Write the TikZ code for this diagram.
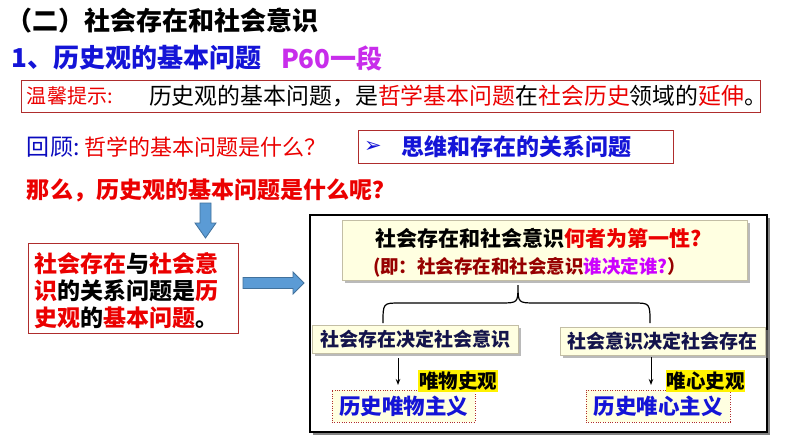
\documentclass[tikz,border=0pt]{standalone}
\usepackage{fontspec}
\newfontfamily\cjk{Noto Sans CJK SC}
\newfontfamily\dejavu{DejaVu Sans}
\usetikzlibrary{shadows,arrows.meta}
\definecolor{myred}{RGB}{235,0,0}
\definecolor{tblue}{RGB}{20,20,215}
\definecolor{pmag}{RGB}{200,45,235}
\definecolor{hblue}{RGB}{10,10,190}
\definecolor{boxred}{RGB}{175,45,45}
\definecolor{cream}{RGB}{255,255,225}
\definecolor{navy}{RGB}{20,20,75}
\definecolor{dred}{RGB}{150,0,0}
\definecolor{wmag}{RGB}{204,0,255}
\definecolor{bfill}{RGB}{91,155,213}
\definecolor{bline}{RGB}{65,113,156}
\definecolor{cline}{RGB}{195,190,165}
\begin{document}
\begin{tikzpicture}[x=1pt,y=-1pt,
  every node/.style={inner sep=0pt,outer sep=0pt},
  txt/.style={anchor=west,font={\cjk\fontsize{#1}{#1}\selectfont}},
  btxt/.style={anchor=west,font={\cjk\bfseries\fontsize{#1}{#1}\selectfont}},
  frame/.style={draw=boxred,line width=1pt,anchor=north west},
  creambox/.style={draw=cline,line width=0.6pt,fill=cream,anchor=north west,
     drop shadow={shadow xshift=2.5pt,shadow yshift=-2.5pt,fill=black!45,opacity=0.6}},
  dotbox/.style={draw=boxred,line width=0.9pt,dash pattern=on 1pt off 1.4pt,fill=cream,anchor=north west},
  hl/.style={fill=yellow,anchor=north west,font={\cjk\bfseries\fontsize{19.5}{19.5}\selectfont}},
  blockarrow/.style={fill=bfill,draw=bline,line width=0.8pt},
  thinarrow/.style={line width=1pt,-{Stealth[length=6pt,width=4.5pt]}}
]
\useasboundingbox[fill=white] (0,0) rectangle (794,447);

% titles
\node[btxt=26] (title) at (6,21) {（二）社会存在和社会意识};
\node[btxt=26,text=tblue] (sub) at (12,58) {1、历史观的基本问题};
\node[btxt=26,text=pmag] (page) at (281,58) {P60一段};

% tip box
\node[frame,minimum width=739,minimum height=32] (tip) at (21,80) {};
\node[txt=20,text=myred] (tipa) at (27,96) {温馨提示:};
\node[txt=22.9] (tipb) at (149,96) {历史观的基本问题，是\textcolor{myred}{哲学基本问题}在\textcolor{myred}{社会历史}领域的\textcolor{myred}{延伸}。};

% review line
\node[txt=23,text=hblue] (rev) at (27,147) {回顾:};
\node[txt=22,text=myred] (revq) at (84,147) {哲学的基本问题是什么？};
\node[frame,minimum width=315,minimum height=33] (ans) at (358,130) {};
\node[anchor=west,font={\dejavu\fontsize{21}{21}\selectfont},text=tblue] (ansmark) at (364,147) {➢};
\node[btxt=23,text=tblue] (anstext) at (401,147) {思维和存在的关系问题};

% question
\node[btxt=23,text=myred] (q) at (27,190) {那么，历史观的基本问题是什么呢？};

% down block arrow
\draw[blockarrow] (200,203) -- (211,203) -- (211,223) -- (216,223) -- (205.5,238) -- (195,223) -- (200,223) -- cycle;

% left answer box
\node[frame,line width=0.8pt,minimum width=210,minimum height=90] (lbox) at (28,243) {};
\node[btxt=23,text=myred] (l1) at (34,264) {社会存在\textcolor{black}{与}社会意};
\node[btxt=23,text=myred] (l2) at (34,291) {识\textcolor{black}{的关系问题是}历};
\node[btxt=23,text=myred] (l3) at (34,318) {史观\textcolor{black}{的}基本问题\textcolor{black}{。}};

% right block arrow
\draw[blockarrow] (243,277.5) -- (293,277.5) -- (293,272) -- (304,283) -- (293,294) -- (293,288.5) -- (243,288.5) -- cycle;

% big frame
\node[draw=black,line width=2.5pt,fill=white,anchor=north west,minimum width=457,minimum height=217,
  drop shadow={shadow xshift=2.5pt,shadow yshift=-2.5pt,fill=black!60,opacity=0.8}] (big) at (310,215) {};

% top cream box
\node[creambox,minimum width=405,minimum height=60] (topbox) at (342,220) {};
\node[btxt=21] (t1) at (375,238) {社会存在和社会意识\textcolor{myred}{何者为第一性?}};
\node[btxt=18.5,text=dred] (t2) at (373,267) {(即：社会存在和社会意识\textcolor{wmag}{谁决定谁?}）};

% brace
\draw[line width=1.2pt] (383,323) .. controls (383,303) .. (400,303) -- (500,303)
  .. controls (518,303) .. (518,285) .. controls (518,303) .. (536,303) -- (633,303)
  .. controls (650,303) .. (650,323);

% second level boxes
\node[creambox,minimum width=206,minimum height=28] (lb) at (312,325) {};
\node[btxt=19,text=navy,anchor=center] (lbt) at (lb.center) {社会存在决定社会意识};
\node[creambox,minimum width=205,minimum height=28] (rb) at (560,327) {};
\node[btxt=19,text=navy,anchor=center] (rbt) at (rb.center) {社会意识决定社会存在};

% result boxes
\node[dotbox,minimum width=143,minimum height=32] (lr) at (332,390) {};
\node[btxt=21.5,text=tblue,anchor=center] (lrt) at (lr.center) {历史唯物主义};
\node[dotbox,minimum width=144,minimum height=32] (rr) at (586,390) {};
\node[btxt=21.5,text=tblue,anchor=center] (rrt) at (rr.center) {历史唯心主义};

% highlights
\node[hl,minimum width=80,minimum height=22] (lh) at (418,370) {唯物史观};
\node[hl,minimum width=79,minimum height=22] (rh) at (666,370) {唯心史观};

% thin arrows
\draw[thinarrow] ([xshift=-17pt,yshift=-5pt]lb.south) -- ([xshift=-5.5pt,yshift=5pt]lr.north);
\draw[thinarrow] ([xshift=-11.5pt,yshift=-2pt]rb.south) -- ([xshift=-7pt,yshift=5pt]rr.north);
\end{tikzpicture}
\end{document}
